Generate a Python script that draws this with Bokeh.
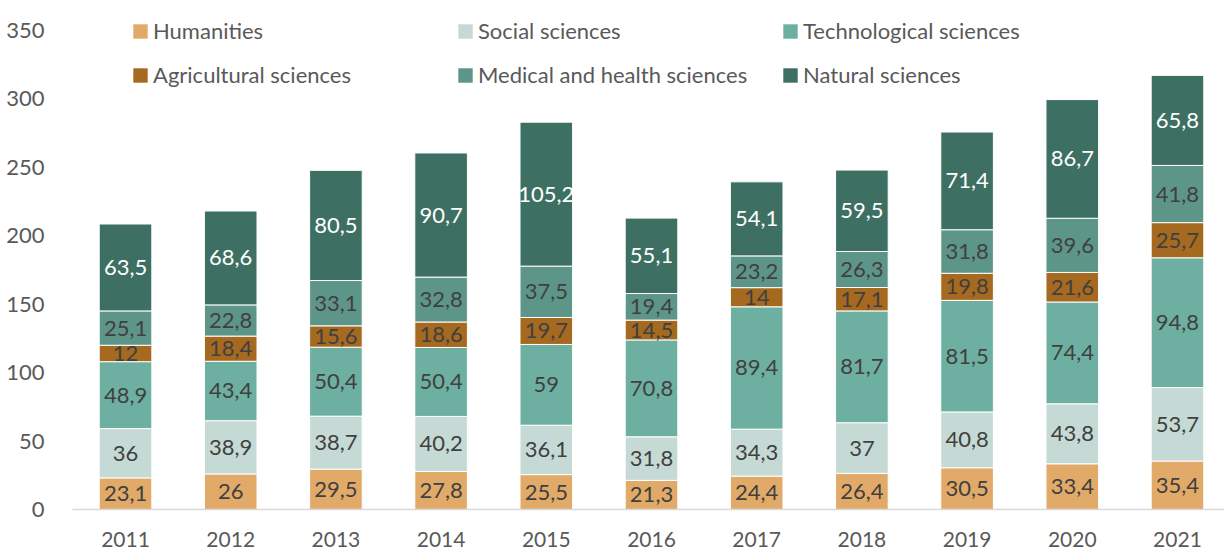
import numpy as np
from bokeh.plotting import figure
from bokeh.models import ColumnDataSource, Range1d, Legend, LegendItem, FixedTicker
from bokeh.core.properties import value
from bokeh.embed import file_html
from bokeh.resources import INLINE

years = ["2011", "2012", "2013", "2014", "2015", "2016", "2017", "2018", "2019", "2020", "2021"]
series_names = ["Humanities", "Social sciences", "Technological sciences",
                "Agricultural sciences", "Medical and health sciences", "Natural sciences"]
humanities = [23.1, 26, 29.5, 27.8, 25.5, 21.3, 24.4, 26.4, 30.5, 33.4, 35.4]
social = [36, 38.9, 38.7, 40.2, 36.1, 31.8, 34.3, 37, 40.8, 43.8, 53.7]
technological = [48.9, 43.4, 50.4, 50.4, 59, 70.8, 89.4, 81.7, 81.5, 74.4, 94.8]
agricultural = [12, 18.4, 15.6, 18.6, 19.7, 14.5, 14, 17.1, 19.8, 21.6, 25.7]
medical = [25.1, 22.8, 33.1, 32.8, 37.5, 19.4, 23.2, 26.3, 31.8, 39.6, 41.8]
natural = [63.5, 68.6, 80.5, 90.7, 105.2, 55.1, 54.1, 59.5, 71.4, 86.7, 65.8]
y_ticks = [0, 50, 100, 150, 200, 250, 300, 350]

colors = ["#E2AA68", "#C5DAD4", "#6DAFA0", "#A5691F", "#5E9589", "#3D7063"]
label_colors = ["#404040", "#404040", "#404040", "#404040", "#404040", "#FFFFFF"]
FONT = "Lato"

all_series = [humanities, social, technological, agricultural, medical, natural]
keys = ["s%d" % i for i in range(6)]
xs = list(range(len(years)))
data = {"x": xs}
for k, s in zip(keys, all_series):
    data[k] = s
source = ColumnDataSource(data)

p = figure(width=1224, height=549, output_backend="svg", toolbar_location=None,
           x_range=Range1d(-0.504, 10.447), y_range=Range1d(0, 371.9),
           min_border_left=72, min_border_right=0, min_border_top=0, min_border_bottom=40,
           outline_line_color=None)
p.background_fill_color = "white"
p.grid.visible = False

p.vbar_stack(keys, x="x", width=0.5, source=source, color=colors,
             line_color="white", line_width=1)

# legend swatches (no border); zero-height bars so nothing shows in the plot
swatches = []
for c in colors:
    swatches.append(p.vbar(x=[0], top=[0], bottom=[0], width=0.5,
                           fill_color=c, line_color=None))

# data labels
cum = np.zeros(len(years))
for i, s in enumerate(all_series):
    arr = np.array(s, dtype=float)
    mids = cum + arr / 2
    cum = cum + arr
    labels = [("%g" % v).replace(".", ",") for v in s]
    src = ColumnDataSource(dict(x=xs, y=list(mids), t=labels))
    p.text(x="x", y="y", text="t", source=src, text_font=value(FONT),
           text_font_size="22px", text_color=label_colors[i],
           text_align="center", text_baseline="middle")

# axes
p.xaxis.ticker = FixedTicker(ticks=xs)
p.xaxis.major_label_overrides = {i: y for i, y in enumerate(years)}
p.xaxis.axis_line_color = "#D9D9D9"
p.xaxis.axis_line_width = 1.5
p.xaxis.major_tick_line_color = None
p.xaxis.minor_tick_line_color = None
p.xaxis.major_label_standoff = 16
p.xaxis.major_label_text_font = FONT
p.xaxis.major_label_text_font_size = "21px"
p.xaxis.major_label_text_color = "#595959"

p.yaxis.ticker = FixedTicker(ticks=y_ticks)
p.yaxis.axis_line_color = None
p.yaxis.major_tick_line_color = None
p.yaxis.minor_tick_line_color = None
p.yaxis.major_label_standoff = 22
p.yaxis.major_label_text_font = FONT
p.yaxis.major_label_text_font_size = "22px"
p.yaxis.major_label_text_color = "#595959"

# legends: three columns, two rows each
col_x = [59, 384, 709]
for c in range(3):
    items = [LegendItem(label=series_names[c], renderers=[swatches[c]]),
             LegendItem(label=series_names[c + 3], renderers=[swatches[c + 3]])]
    lg = Legend(items=items, location=(col_x[c], 421), orientation="vertical",
                padding=0, margin=0, spacing=17, glyph_width=18, glyph_height=18,
                label_standoff=4, border_line_color=None, background_fill_alpha=0,
                label_text_font=FONT, label_text_font_size="22px",
                label_text_color="#595959")
    p.add_layout(lg, "center")

open("out.html", "w").write(file_html(p, INLINE))
